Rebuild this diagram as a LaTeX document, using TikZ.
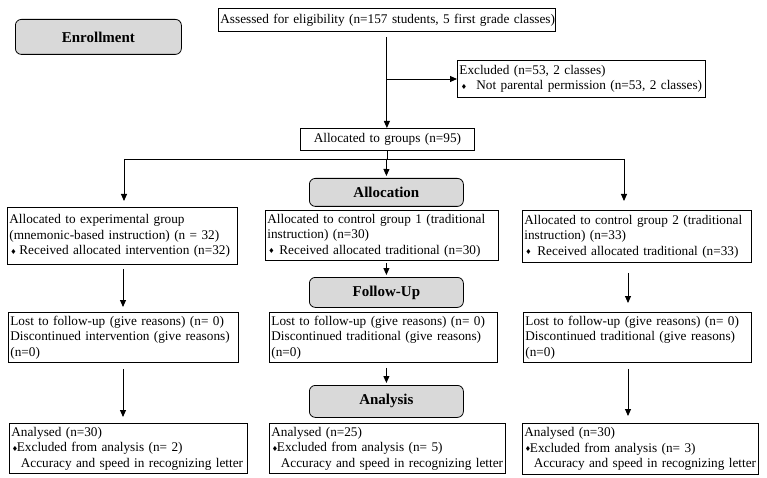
\documentclass[tikz,border=0pt]{standalone}
\usepackage{fontspec}
\setmainfont{Liberation Serif}
\newfontfamily\djv{DejaVu Sans}
\usetikzlibrary{arrows.meta}
\newcommand\dia{{\djv\fontsize{7}{7}\selectfont\raisebox{0.3pt}{♦}}}
\newcommand\fs{\fontsize{13.25}{15.5}\selectfont}
\newcommand\fb{\fontsize{15}{17}\selectfont\bfseries}
\newcommand\tline[1]{\mbox{#1}}
\begin{document}
\begin{tikzpicture}[x=1pt,y=-1pt,
  box/.style={draw, line width=0.8pt, anchor=north west, inner xsep=2pt, inner ysep=1pt, align=left, font=\fs},
  stage/.style={draw, line width=0.8pt, anchor=north west, fill=gray!30, rounded corners=6pt, align=center, font=\fb, inner sep=1pt},
  arr/.style={line width=0.9pt, -{Triangle[length=7pt,width=6pt]}},
  lin/.style={line width=0.9pt}]
\useasboundingbox (0,0) rectangle (767,478);

% stage labels
\node[stage, minimum width=166pt, minimum height=35pt] (enroll) at (15,19) {Enrollment};
\node[stage, minimum width=154pt, minimum height=28pt] (alloc) at (309,178) {Allocation};
\node[stage, minimum width=154pt, minimum height=30pt] (follow) at (309,277) {Follow-Up};
\node[stage, minimum width=154pt, minimum height=32pt] (analysis) at (309,385) {Analysis};

% enrollment
\node[box, text width=333pt, minimum height=23pt] (assess) at (218,8) {\tline{Assessed for eligibility (n=157 students, 5 first grade classes)}};
\node[box, text width=244pt, minimum height=37pt] (excl) at (457,60) {\tline{Excluded (n=53, 2 classes)}\\\tline{\makebox[17pt][l]{\hspace{1.5pt}\dia}Not parental permission (n=53, 2 classes)}};
\node[box, text width=170pt, minimum height=22pt, align=center] (groups) at (300,128) {\tline{Allocated to groups (n=95)}};

% allocation
\node[box, text width=226pt, minimum height=57pt] (exp) at (7,207) {\tline{Allocated to experimental group}\\\tline{(mnemonic-based instruction) (n = 32)}\\\tline{\makebox[10pt][l]{\hspace{1pt}\dia}Received allocated intervention (n=32)}};
\node[box, text width=229pt, minimum height=50pt] (c1) at (265,210) {\tline{Allocated to control group 1 (traditional}\\\tline{instruction) (n=30)}\\\tline{\makebox[12pt][l]{\hspace{1pt}\dia}Received allocated traditional (n=30)}};
\node[box, text width=225pt, minimum height=52pt] (c2) at (522,210) {\tline{Allocated to control group 2 (traditional}\\\tline{instruction) (n=33)}\\\tline{\makebox[13pt][l]{\hspace{1pt}\dia}Received allocated traditional (n=33)}};

% follow-up
\node[box, text width=226pt, minimum height=50pt] (lost1) at (8,312) {\tline{Lost to follow-up (give reasons) (n= 0)}\\\tline{Discontinued intervention (give reasons)}\\\tline{(n=0)}};
\node[box, text width=224pt, minimum height=50pt] (lost2) at (269,312) {\tline{Lost to follow-up (give reasons) (n= 0)}\\\tline{Discontinued traditional (give reasons)}\\\tline{(n=0)}};
\node[box, text width=224pt, minimum height=50pt] (lost3) at (523,312) {\tline{Lost to follow-up (give reasons) (n= 0)}\\\tline{Discontinued traditional (give reasons)}\\\tline{(n=0)}};

% analysis
\node[box, text width=234pt, minimum height=50pt] (an1) at (9,423) {\tline{Analysed (n=30)}\\\tline{\makebox[5.5pt][l]{\hspace{0.5pt}\dia}Excluded from analysis (n= 2)}\\\tline{\hspace{9.5pt}Accuracy and speed in recognizing letter}};
\node[box, text width=232pt, minimum height=50pt] (an2) at (269,423) {\tline{Analysed (n=25)}\\\tline{\makebox[5.5pt][l]{\hspace{0.5pt}\dia}Excluded from analysis (n= 5)}\\\tline{\hspace{9.5pt}Accuracy and speed in recognizing letter}};
\node[box, text width=232pt, minimum height=51pt] (an3) at (522,423) {\tline{Analysed (n=30)}\\\tline{\makebox[5.5pt][l]{\hspace{0.5pt}\dia}Excluded from analysis (n= 3)}\\\tline{\hspace{9.5pt}Accuracy and speed in recognizing letter}};

% connectors
\coordinate (br) at (386.5,79);
\coordinate (hl) at (124,159);
\coordinate (hm) at (386.5,159);
\coordinate (hr) at (624,159);
\coordinate (lc) at (123,300);
\coordinate (rc) at (628,300);

\draw[arr, shorten <=5pt] (assess.south) -- (assess.south |- groups.north);
\draw[arr] (br) -- (br -| excl.west);
\draw[lin] (groups.south) -- (groups.south |- hm);
\draw[lin] (hl) -- (hr);
\draw[arr, shorten >=6pt] (hl) -- (hl |- exp.north);
\draw[arr, shorten >=2pt] (hm) -- (alloc.north);
\draw[arr, shorten >=9pt] (hr) -- (hr |- c2.north);

\draw[arr, shorten <=4pt, shorten >=5pt] (lc |- exp.south) -- (lc |- lost1.north);
\draw[arr, shorten <=2pt, shorten >=2pt] (c1.south -| alloc.south) -- (follow.north);
\draw[arr, shorten <=10pt, shorten >=9pt] (rc |- c2.south) -- (rc |- lost3.north);

\draw[arr, shorten <=6pt, shorten >=6pt] (lc |- lost1.south) -- (lc |- an1.north);
\draw[arr, shorten <=5pt, shorten >=2pt] (lost2.south -| analysis.north) -- (analysis.north);
\draw[arr, shorten <=6pt, shorten >=7pt] (rc |- lost3.south) -- (rc |- an3.north);
\end{tikzpicture}
\end{document}
